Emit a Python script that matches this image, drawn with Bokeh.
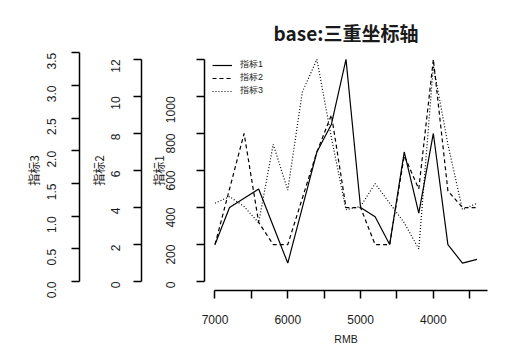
import math
from bokeh.plotting import figure
from bokeh.models import LinearAxis, Range1d, FixedTicker, Legend, LegendItem
from bokeh.embed import file_html
from bokeh.resources import INLINE

# ---- data ----
rmb = [7000, 6800, 6600, 6400, 6200, 6000, 5800, 5600, 5400, 5200,
       5000, 4800, 4600, 4400, 4200, 4000, 3800, 3600, 3400]
index1 = [200, 400, 450, 500, 300, 100, 400, 700, 850, 1200,
          400, 350, 200, 700, 370, 800, 200, 100, 120]
index2 = [2.0, 5.0, 8.0, 3.2, 2.0, 2.0, 4.5, 7.0, 9.0, 4.0,
          4.0, 2.0, 2.0, 6.8, 5.0, 12.0, 4.9, 4.0, 4.0]
index3 = [1.2, 1.3, 1.15, 0.9, 2.1, 1.4, 2.9, 3.4, 2.2, 1.1,
          1.15, 1.5, 1.2, 0.9, 0.5, 3.3, 2.1, 1.1, 1.2]

x_ticks = [7000, 6500, 6000, 5500, 5000, 4500, 4000, 3500]
x_tick_labels = {6500: "", 5500: "", 4500: "", 3500: ""}
y1_ticks = [0, 200, 400, 600, 800, 1000, 1200]
y1_tick_labels = {1200: ""}
y2_ticks = [0, 2, 4, 6, 8, 10, 12]
y3_ticks = [0, 0.5, 1.0, 1.5, 2.0, 2.5, 3.0, 3.5]
y3_tick_labels = {0: "0.0", 1: "1.0", 2: "2.0", 3: "3.0"}

title_text = "base:三重坐标轴"
names = ["指标1", "指标2", "指标3"]
x_title = "RMB"

TXT = "#1a1a1a"
CJK = "Noto Sans CJK SC"
LAT = "Liberation Sans"

p = figure(width=518, height=356, output_backend="svg", toolbar_location=None,
           x_range=Range1d(7144, 3256), y_range=Range1d(-48, 1248),
           min_border_left=204, min_border_right=31, min_border_top=50,
           min_border_bottom=66)
p.extra_y_ranges = {"i2": Range1d(-0.48, 12.48), "i3": Range1d(-0.136, 3.536)}
p.xgrid.visible = False
p.ygrid.visible = False
p.outline_line_color = None
p.background_fill_color = "white"
p.border_fill_color = "white"

p.title.text = title_text
p.title.align = "center"
p.title.text_font = CJK
p.title.text_font_size = "19px"
p.title.text_font_style = "bold"
p.title.text_color = TXT
p.title.standoff = 9


def style_axis(ax, ticks, overrides, label, label_size, tick_std, lab_std, rotate):
    ax.ticker = FixedTicker(ticks=ticks)
    ax.major_label_overrides = overrides
    ax.axis_label = label
    ax.axis_label_text_font = CJK if label != x_title else LAT
    ax.axis_label_text_font_size = label_size
    ax.axis_label_text_font_style = "normal"
    ax.axis_label_text_color = TXT
    ax.axis_label_standoff = lab_std
    ax.major_label_text_font = LAT
    ax.major_label_text_font_size = "12px"
    ax.major_label_text_color = TXT
    ax.major_label_standoff = tick_std
    if rotate:
        ax.major_label_orientation = math.pi / 2
    ax.major_tick_out = 8
    ax.major_tick_in = 0
    ax.minor_tick_out = 0
    ax.minor_tick_in = 0
    ax.axis_line_width = 1.5
    ax.major_tick_line_width = 1.5
    ax.axis_line_color = "black"
    ax.major_tick_line_color = "black"


def spacer(range_name, tick_value, gap):
    ax = LinearAxis(y_range_name=range_name, ticker=FixedTicker(ticks=[tick_value]))
    ax.major_tick_out = gap
    ax.major_tick_in = 0
    ax.minor_tick_out = 0
    ax.axis_line_color = None
    ax.major_tick_line_alpha = 0
    ax.minor_tick_line_color = None
    ax.major_label_overrides = {tick_value: ""}
    ax.major_label_text_font_size = "0px"
    ax.major_label_standoff = 0
    return ax


ax1 = p.yaxis[0]
style_axis(ax1, y1_ticks, y1_tick_labels, names[0], "12px", 26, -8, True)
ax1.bounds = (0, 1200)

ax2 = LinearAxis(y_range_name="i2")
style_axis(ax2, y2_ticks, {}, names[1], "12px", 18, -3, True)
ax2.bounds = (0, 12)

ax3 = LinearAxis(y_range_name="i3")
style_axis(ax3, y3_ticks, y3_tick_labels, names[2], "12px", 20, -2, True)
ax3.bounds = (0, 3.5)

p.add_layout(spacer("i2", 6, 5), "left")
p.add_layout(ax2, "left")
p.add_layout(spacer("i3", 1.5, 7), "left")
p.add_layout(ax3, "left")

axx = p.xaxis[0]
style_axis(axx, x_ticks, x_tick_labels, x_title, "10.5px", 16, 6, False)
axx.bounds = (3256, 7000)

r1 = p.line(rmb, index1, line_color="black", line_width=1.2)
r2 = p.line(rmb, index2, y_range_name="i2", line_color="black",
            line_width=1.2, line_dash="4 3")
r3 = p.line(rmb, index3, y_range_name="i3", line_color="black",
            line_width=1.2, line_dash="1 2")

legend = Legend(items=[LegendItem(label=names[0], renderers=[r1]),
                       LegendItem(label=names[1], renderers=[r2]),
                       LegendItem(label=names[2], renderers=[r3])],
                location="top_left", border_line_color=None,
                background_fill_alpha=0, label_text_font=LAT,
                label_text_font_size="9px", label_text_color=TXT,
                label_text_line_height=0.6,
                glyph_width=20, glyph_height=8, label_height=8,
                spacing=0, padding=8, margin=8, label_standoff=8)
p.add_layout(legend)

open("out.html", "w").write(file_html(p, INLINE))
